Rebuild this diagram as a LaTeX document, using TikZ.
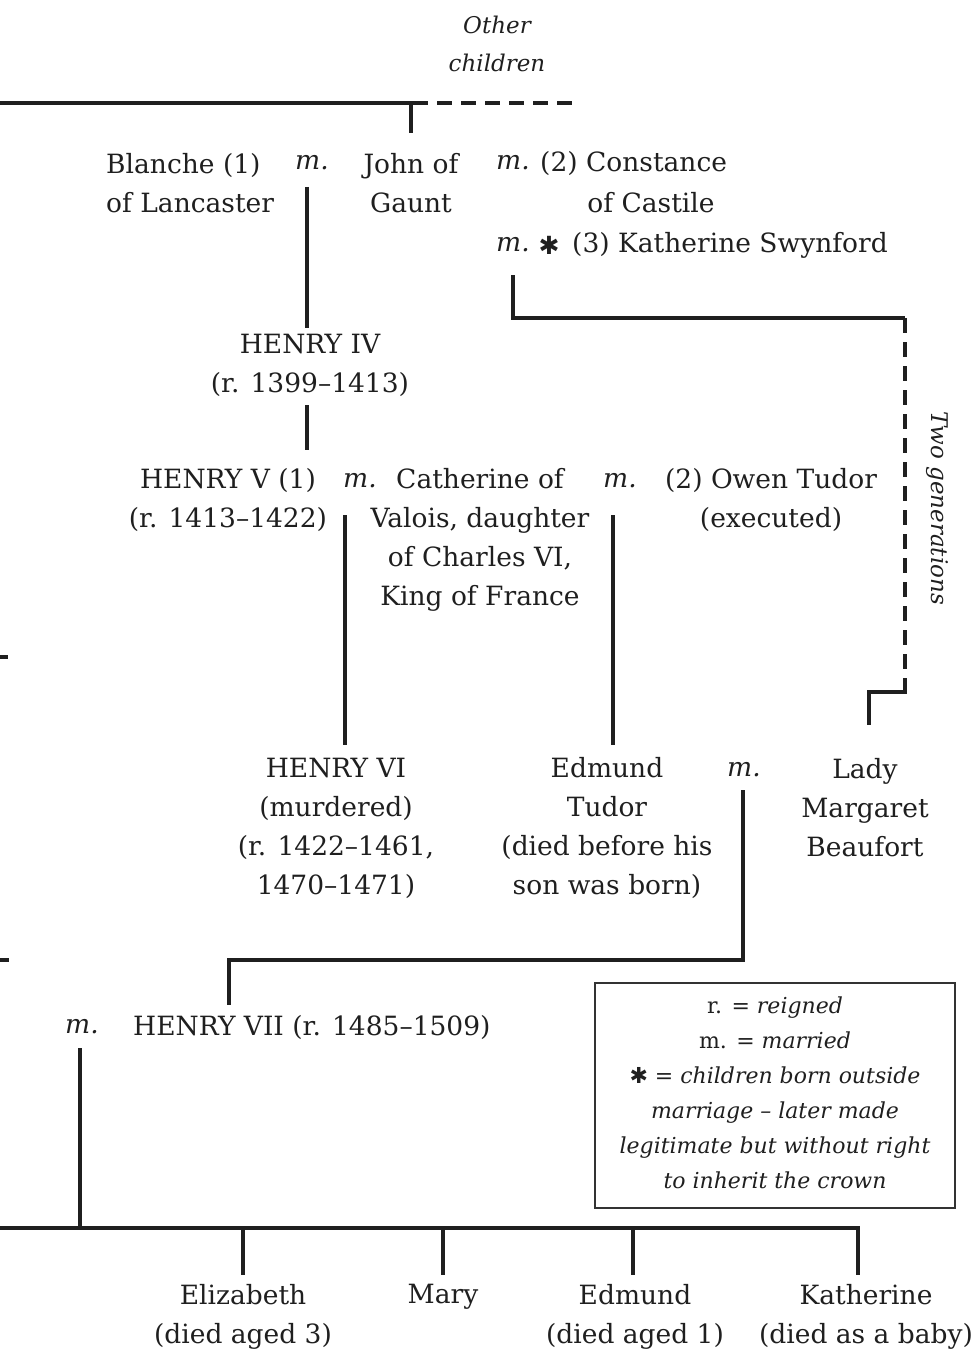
\documentclass[tikz,border=0pt]{standalone}
\usepackage{fontspec}
\setmainfont{DejaVu Serif}
\newfontfamily\symfont{DejaVu Sans}
\begin{document}
\begin{tikzpicture}[x=1pt,y=-1pt,
  conn/.style={line width=4.8pt, line join=miter, color=black!88},
  dconn/.style={line width=4.8pt, dash pattern=on 15pt off 9pt, color=black!88},
  txt/.style={font=\fontsize{26.5}{39}\selectfont, inner sep=0pt, align=center, text=black!88},
  mtxt/.style={font=\fontsize{26.5}{39}\selectfont\itshape, inner sep=0pt, text=black!88},
  itxt/.style={font=\fontsize{23}{38}\selectfont\itshape, inner sep=0pt, align=center, text=black!88},
  legtxt/.style={font=\fontsize{22}{35}\selectfont, inner sep=0pt, align=center, text=black!88},
  legbox/.style={draw=black!80, line width=1.3pt}
]
\useasboundingbox (0,0) rectangle (976,1364);

% ---- texts ----
\node[itxt] (othch) at (497,44) {Other\\children};
\node[txt, anchor=west, align=left] (blanche) at (106,183) {Blanche (1)\\of Lancaster};
\node[mtxt] (mBJ) at (312,163) {m.};
\node[txt] (john) at (411,183) {John of\\Gaunt};
\node[mtxt] (mC) at (513,163) {m.};
\node[txt, anchor=west] (constance) at (540,163) {(2) Constance};
\node[txt] (castile) at (651,203) {of Castile};
\node[mtxt] (mK) at (513,245) {m.};
\node[txt] (star) at (549,245) {\symfont\fontsize{25}{25}\selectfont ✱};
\node[txt, anchor=west] (swyn) at (572,245) {(3) Katherine Swynford};
\node[txt] (henry4) at (310,365) {HENRY IV\\(r. 1399–1413)};
\node[txt] (henry5) at (228,500) {HENRY V (1)\\(r. 1413–1422)};
\node[mtxt] (mHC) at (360,481) {m.};
\node[txt] (cath) at (480,540) {Catherine of\\Valois, daughter\\of Charles VI,\\King of France};
\node[mtxt] (mCO) at (620,481) {m.};
\node[txt] (owen) at (771,500) {(2) Owen Tudor\\(executed)};
\node[itxt, rotate=-90] (two) at (937,508) {Two generations};
\node[txt] (henry6) at (336,828) {HENRY VI\\(murdered)\\(r. 1422–1461,\\1470–1471)};
\node[txt] (edmund) at (607,828) {Edmund\\Tudor\\(died before his\\son was born)};
\node[mtxt] (mEM) at (744,770) {m.};
\node[txt] (margaret) at (865,808) {Lady\\Margaret\\Beaufort};
\node[mtxt] (mH7) at (82,1027) {m.};
\node[txt, anchor=west] (henry7) at (133,1027) {HENRY VII (r. 1485–1509)};
\node[txt] (elizabeth) at (243,1317) {Elizabeth\\(died aged 3)};
\node[txt] (mary) at (443,1297) {Mary};
\node[txt] (edmundc) at (635,1317) {Edmund\\(died aged 1)};
\node[txt] (katherine) at (866,1317) {Katherine\\(died as a baby)};

% ---- legend ----
\draw[legbox] (595,983) rectangle (955,1208);
\node[legtxt] (legend) at (775,1093) {r. = \textit{reigned}\\m. = \textit{married}\\{\symfont\fontsize{22}{22}\selectfont ✱} = \textit{children born outside}\\\textit{marriage – later made}\\\textit{legitimate but without right}\\\textit{to inherit the crown}};

% ---- connectors ----
\coordinate (tl) at (0,103);
\coordinate (tj) at (411,103);
\coordinate (tr) at (428,103);
\coordinate (td1) at (437,103);
\coordinate (td2) at (575,103);
\draw[conn] (tl) -- (tr);
\draw[dconn] (td1) -- (td2);
\draw[conn] (tj) -- (411,133) coordinate (johntop);

\draw[conn] (307,187) coordinate (bjm) -- (307,328) coordinate (h4top);
\draw[conn] (307,405) coordinate (h4bot) -- (307,450) coordinate (h5top);

\draw[conn] (513,275) coordinate (ksm) -- (513,318) -- (905,318) coordinate (kscorner);
\draw[dconn] (kscorner) -- (905,692) coordinate (ksbot);
\draw[conn] (905,678) -- (ksbot) -- (869,692) -- (869,725) coordinate (margtop);

\draw[conn] (345,515) coordinate (hcm) -- (345,745) coordinate (h6top);
\draw[conn] (613,515) coordinate (com) -- (613,745) coordinate (edtop);

\draw[conn] (743,790) coordinate (emm) -- (743,960) -- (229,960) -- (229,1005) coordinate (h7top);

\draw[conn] (80,1048) coordinate (h7m) -- (80,1228) coordinate (cj);
\draw[conn] (0,1228) coordinate (cl) -- (860,1228) coordinate (cr);
\foreach \x/\n in {243/elizabeth,443/mary,633/edmundc,858/katherine}{
  \draw[conn] (\x,1228) -- (\x,1275);
}

\draw[conn] (0,657) coordinate (tick1) -- (8,657);
\draw[conn] (0,960) coordinate (tick2) -- (9,960);
\end{tikzpicture}
\end{document}
